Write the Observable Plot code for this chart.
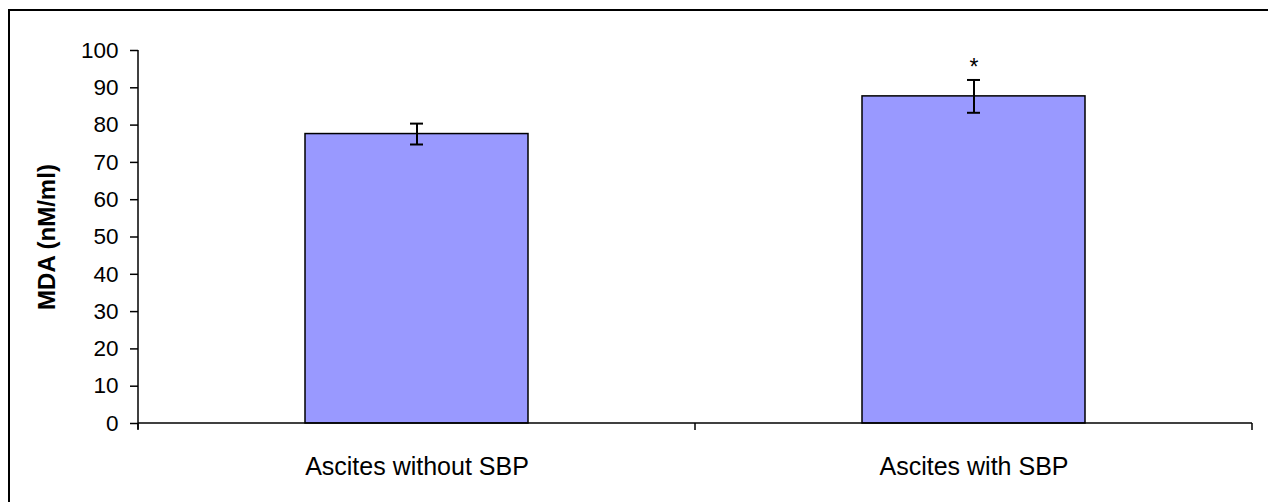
<!DOCTYPE html>
<html>
<head>
<meta charset="utf-8">
<script src="https://cdn.jsdelivr.net/npm/d3@7"></script>
<script src="https://cdn.jsdelivr.net/npm/@observablehq/plot@0.6"></script>
<style>
  html, body { margin: 0; padding: 0; background: #fff; }
  #wrap { position: relative; width: 1268px; height: 502px; overflow: hidden; }
  #border { position: absolute; left: 8px; top: 9px; width: 1300px; height: 600px;
            border-left: 2px solid #000; border-top: 2px solid #000; box-sizing: border-box; }
  #chart { position: absolute; left: 0; top: 0; }
  #chart g[aria-label="y-axis label"] text { font-weight: bold; font-size: 24px; }
  #chart g[aria-label="x-axis tick label"] text { font-size: 25px; }
</style>
</head>
<body>
<div id="wrap"><div id="border"></div><div id="chart"></div></div>
<script>
const categories = ["Ascites without SBP", "Ascites with SBP"];
const means = [77.6, 87.7];
const errors = [2.8, 4.4];
const significance = ["", "*"];
const yTicks = [0, 10, 20, 30, 40, 50, 60, 70, 80, 90, 100];
const yLabel = "MDA (nM/ml)";

const data = categories.map((c, i) => ({
  category: c, mean: means[i], lo: means[i] - errors[i], hi: means[i] + errors[i], sig: significance[i]
}));

// axis lines and category-boundary ticks (each category occupies one equal step)
const axisLines = (index, scales, channels, dims) => {
  const {y} = scales;
  const g = d3.create("svg:g").attr("stroke", "#000").attr("stroke-width", 1.5).attr("fill", "none");
  const left = dims.marginLeft, right = dims.width - dims.marginRight;
  const y0 = y(0), yTop = y(yTicks[yTicks.length - 1]);
  g.append("line").attr("x1", left).attr("x2", left).attr("y1", yTop).attr("y2", y0 + 6);
  g.append("line").attr("x1", left).attr("x2", right).attr("y1", y0).attr("y2", y0);
  const n = categories.length;
  for (let i = 0; i <= n; i++) {
    const b = left + (right - left) * i / n;
    g.append("line").attr("x1", b).attr("x2", b).attr("y1", y0).attr("y2", y0 + 7);
  }
  return g.node();
};

const chart = Plot.plot({
  width: 1268,
  height: 502,
  marginLeft: 138,
  marginRight: 16,
  marginTop: 50,
  marginBottom: 79,
  style: {fontFamily: "'Liberation Sans', Arial, sans-serif", fontSize: "22.5px", background: "transparent", color: "#000"},
  x: {domain: categories, paddingInner: 0.6, paddingOuter: 0.3},
  y: {domain: [0, 100]},
  marks: [
    Plot.barY(data, {x: "category", y: "mean", fill: "#9999ff", stroke: "#000", strokeWidth: 1.5}),
    Plot.ruleX(data, {x: "category", y1: "lo", y2: "hi", stroke: "#000", strokeWidth: 2}),
    Plot.tickY(data, {x: "category", y: "lo", insetLeft: 105, insetRight: 105, stroke: "#000", strokeWidth: 2}),
    Plot.tickY(data, {x: "category", y: "hi", insetLeft: 105, insetRight: 105, stroke: "#000", strokeWidth: 2}),
    Plot.text(data, {x: "category", y: "hi", text: "sig", dy: -12, fontSize: 23}),
    Plot.axisY({ticks: yTicks, tickSize: 8, tickPadding: 12, tickFormat: d => String(d), strokeWidth: 1.5,
                label: yLabel, labelAnchor: "center", labelArrow: "none", labelOffset: 101}),
    Plot.axisX({tickSize: 0, tickPadding: 34, label: null}),
    axisLines
  ]
});
document.getElementById("chart").appendChild(chart);
</script>
</body>
</html>
